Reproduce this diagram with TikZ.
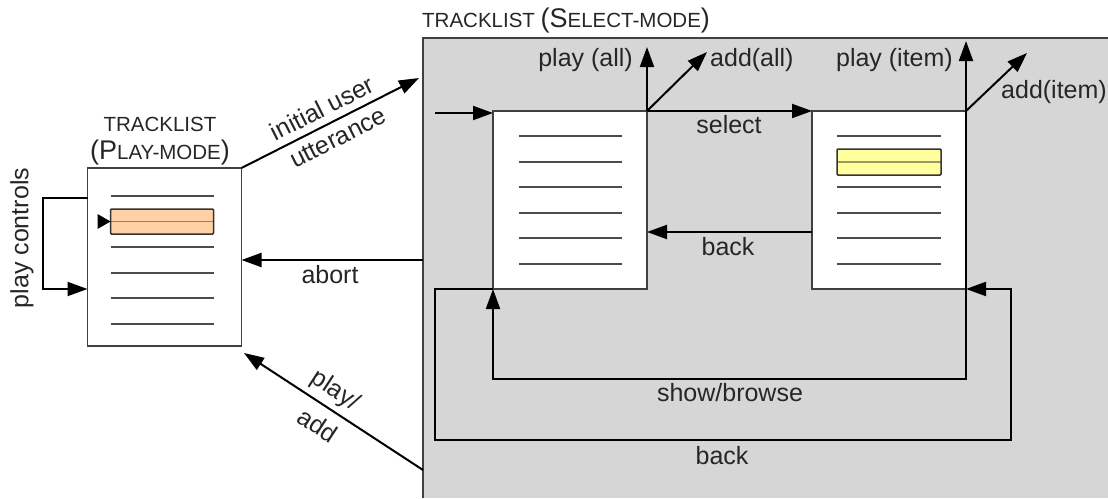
\documentclass[tikz,border=0pt]{standalone}
\usepackage{fontspec}
\setmainfont{Liberation Sans}
\usetikzlibrary{arrows.meta,calc}
\definecolor{selgray}{HTML}{D6D6D6}
\definecolor{peach}{HTML}{FFD1A4}
\definecolor{lightyel}{HTML}{FFFF9E}
\newcommand{\BigSC}[1]{{\fontsize{27}{29}\selectfont #1}}
\newcommand{\SmSC}[1]{{\fontsize{20.5}{23}\selectfont #1}}
\begin{document}
\begin{tikzpicture}[x=1pt,y=-1pt,
  lbl/.style={font=\fontsize{25}{28}\selectfont, inner sep=0pt, text=black!85},
  ttl/.style={inner sep=0pt, text=black!85},
  arr/.style={line width=2pt, -{Triangle[length=20pt,width=14pt]}},
  conn/.style={line width=2pt},
  doc/.style={draw=black!75, line width=1.5pt, fill=white, minimum width=154pt, minimum height=178pt, inner sep=0pt, outer sep=0pt},
  row/.style={draw=black!70, line width=2pt},
  hilite/.style={draw=black!80, line width=1.5pt, rounded corners=1pt},
]
\useasboundingbox (0,0) rectangle (1108,498);

% select-mode area
\node[fill=selgray, minimum width=685pt, minimum height=460pt, anchor=north west, inner sep=0pt, outer sep=0pt] (sel) at (423,38) {};
\draw[line width=2pt, black!75] (sel.south west) -- (sel.north west) -- (sel.north east);
\node[ttl, anchor=west] (seltitle) at (422,21) {\SmSC{TRACKLIST }\BigSC{(S}\SmSC{ELECT-MODE}\BigSC{)}};

% documents
\node[doc] (pm) at (164.5,257) {};
\node[doc] (A) at (570,200) {};
\node[doc] (B) at (889,200) {};

\node[ttl] (pmt1) at (160,124) {\SmSC{TRACKLIST}};
\node[ttl] (pmt2) at (160,153) {\BigSC{(P}\SmSC{LAY-MODE}\BigSC{)}};

% rows of play-mode list
\fill[peach] ($(pm.north west)+(23,41)$) rectangle ($(pm.north west)+(126,66)$);
\draw[black!40!peach, line width=1.5pt] ($(pm.north west)+(23,53.5)$) -- ++(103,0);
\draw[hilite] ($(pm.north west)+(23,41)$) rectangle ($(pm.north west)+(126,66)$);
\foreach \dy in {28,79,105,130,156}
  \draw[row] ($(pm.north west)+(23,\dy)$) -- ++(103,0);
\fill ($(pm.north west)+(10,46)$) -- ($(pm.north west)+(23,53.5)$) -- ($(pm.north west)+(10,61)$) -- cycle;

% rows of list A
\foreach \dy in {25,51,76,102,127,153}
  \draw[row] ($(A.north west)+(26,\dy)$) -- ++(103,0);

% rows of list B
\fill[lightyel] ($(B.north west)+(25,38)$) rectangle ($(B.north west)+(129,64)$);
\draw[black!40!lightyel, line width=1.5pt] ($(B.north west)+(25,51)$) -- ++(104,0);
\draw[hilite] ($(B.north west)+(25,38)$) rectangle ($(B.north west)+(129,64)$);
\foreach \dy in {25,76,102,127,153}
  \draw[row] ($(B.north west)+(25,\dy)$) -- ++(104,0);

% free-end coordinates
\coordinate (iuEnd) at (419,78);
\coordinate (abS) at (423,260);
\coordinate (paS) at (423,470);
\coordinate (paE) at (244,353);
\coordinate (enS) at (435,113);
\coordinate (plAll) at (647,47);
\coordinate (adAll) at (707,52);
\coordinate (plItem) at (966,41);
\coordinate (adItem) at (1027,53);
\coordinate (buY) at (0,232);
\coordinate (lbL) at (435,440);
\coordinate (lbR) at (1011,440);
\coordinate (pcT) at (43,198);
\coordinate (pcB) at (43,289);

% connectors
\draw[arr] (pm.north east) -- (iuEnd);
\draw[arr] (abS) -- (abS -| pm.east);
\draw[arr] (paS) -- (paE);
\draw[arr] (enS) -- (enS -| A.west);
\draw[arr] (A.north east) -- (B.north west);
\draw[arr] (A.north east) -- (plAll);
\draw[arr] (A.north east) -- (adAll);
\draw[arr] (B.north east) -- (plItem);
\draw[arr] (B.north east) -- (adItem);
\draw[arr] (B.west |- buY) -- (A.east |- buY);
\draw[conn] (B.north east) -- (B.south east);
\draw[arr] (B.south east) -- ++(0,90) -| (A.south west);
\draw[arr] (A.south west) -| (lbL) -- (lbR) |- (B.south east);
\draw[arr] (pm.west |- pcT) -- (pcT) -- (pcB) -- (pm.west |- pcB);

% labels
\node[lbl, rotate=26.7] (lIU1) at (322,108) {initial user};
\node[lbl, rotate=26.7] (lIU2) at (338,138) {utterance};
\node[lbl] (lAbort) at (330,275) {abort};
\node[lbl, rotate=-33.2] (lPA1) at (335,391) {play/};
\node[lbl, rotate=-33.2] (lPA2) at (318,425) {add};
\node[lbl, rotate=90] (lPC) at (22,238) {play controls};
\node[lbl, anchor=east] (lPlAll) at (633,60) {play (all)};
\node[lbl, anchor=west] (lAdAll) at (710,60) {add(all)};
\node[lbl, anchor=east] (lPlItem) at (953,60) {play (item)};
\node[lbl, anchor=west] (lAdItem) at (1001,92) {add(item)};
\node[lbl] (lSelect) at (729,125) {select};
\node[lbl] (lBack1) at (728,247) {back};
\node[lbl] (lShow) at (730,393) {show/browse};
\node[lbl] (lBack2) at (722,456) {back};
\end{tikzpicture}
\end{document}
